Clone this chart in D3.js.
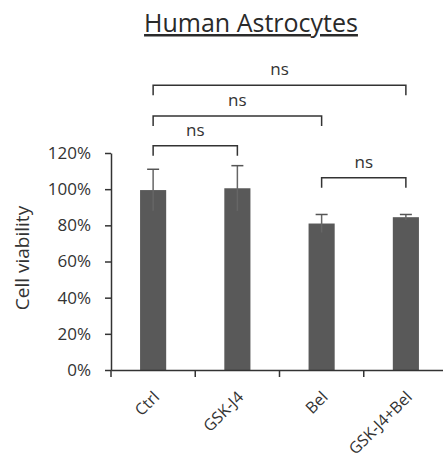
<!DOCTYPE html>
<html>
<head>
<meta charset="utf-8">
<script src="https://cdn.jsdelivr.net/npm/d3@7"></script>
<style>
  body { margin: 0; background: #fff; }
  text { font-family: "Open Sans", sans-serif; fill: #3a3a3a; }
</style>
</head>
<body>
<div id="chart"></div>
<script>
// data
var groups = ["Ctrl", "GSK-J4", "Bel", "GSK-J4+Bel"]
var viability = [0.995, 1.005, 0.81, 0.845]
var errors = [0.115, 0.125, 0.05, 0.015]
var y_ticks = [0, 0.2, 0.4, 0.6, 0.8, 1.0, 1.2]

// significance brackets: from group, to group, height (data units), label
var cmp_from = ["Ctrl", "Ctrl", "Ctrl", "Bel"]
var cmp_to = ["GSK-J4+Bel", "Bel", "GSK-J4", "GSK-J4+Bel"]
var cmp_level = [1.575, 1.405, 1.24, 1.063]
var cmp_label = ["ns", "ns", "ns", "ns"]

var W = 443, H = 463
var margin = {top: 153, right: -5, bottom: 93, left: 111}
var width = W - margin.left - margin.right,
    height = H - margin.top - margin.bottom

var svg = d3.select("#chart")
  .append("svg")
    .attr("width", W)
    .attr("height", H)

var g = svg.append("g")
    .attr("transform", "translate(" + margin.left + "," + margin.top + ")")

var x = d3.scaleBand()
    .domain(groups)
    .range([0, width])

var y = d3.scaleLinear()
    .domain([0, 1.2])
    .range([height, 0])

var barW = x.bandwidth() * 0.31
var cx = function (name) { return x(name) + x.bandwidth() / 2 }

// title
svg.append("text")
    .attr("x", 251)
    .attr("y", 32)
    .attr("text-anchor", "middle")
    .style("font-size", "25px")
    .style("text-decoration", "underline")
    .style("fill", "#2a2a2a")
    .text("Human Astrocytes")

// bars
g.selectAll(".bar")
  .data(groups)
  .enter()
  .append("rect")
    .attr("x", function (d) { return cx(d) - barW / 2 })
    .attr("y", function (d, i) { return y(viability[i]) })
    .attr("width", barW)
    .attr("height", function (d, i) { return height - y(viability[i]) })
    .attr("fill", "#595959")

// error bars
var eb = g.selectAll(".err")
  .data(groups)
  .enter()
  .append("g")
eb.append("line")
    .attr("x1", function (d) { return cx(d) })
    .attr("x2", function (d) { return cx(d) })
    .attr("y1", function (d, i) { return y(viability[i] - errors[i]) })
    .attr("y2", function (d, i) { return y(viability[i] + errors[i]) })
    .attr("stroke", "#666")
    .attr("stroke-width", 1.5)
eb.append("line")
    .attr("x1", function (d) { return cx(d) - 6 })
    .attr("x2", function (d) { return cx(d) + 6 })
    .attr("y1", function (d, i) { return y(viability[i] + errors[i]) })
    .attr("y2", function (d, i) { return y(viability[i] + errors[i]) })
    .attr("stroke", "#555")
    .attr("stroke-width", 1.5)

// y axis
var yAxis = g.append("g")
    .call(d3.axisLeft(y).tickValues(y_ticks).tickFormat(d3.format(".0%"))
      .tickSize(6).tickSizeOuter(0).tickPadding(14))
yAxis.select(".domain").attr("stroke", "#333").attr("stroke-width", 1.5)
yAxis.selectAll(".tick line").attr("stroke", "#333").attr("stroke-width", 1.5)
yAxis.selectAll(".tick text")
    .style("font-size", "17px")
    .style("fill", "#333")

// x axis: labels at centers, ticks at band edges
var xAxis = g.append("g")
    .attr("transform", "translate(0," + height + ")")
    .call(d3.axisBottom(x).tickSize(0).tickSizeOuter(0))
xAxis.select(".domain").attr("stroke", "#333").attr("stroke-width", 1.5)
xAxis.selectAll(".tick text")
    .style("font-size", "16px")
    .style("fill", "#333")
    .attr("text-anchor", "end")
    .attr("transform", "translate(5,26) rotate(-45)")
    .attr("dy", "0")
xAxis.selectAll(".edge")
  .data(groups.concat(["end"]))
  .enter()
  .append("line")
    .attr("x1", function (d, i) { return i * x.step() })
    .attr("x2", function (d, i) { return i * x.step() })
    .attr("y1", 0)
    .attr("y2", 7)
    .attr("stroke", "#333")
    .attr("stroke-width", 1.5)

// y axis title
svg.append("text")
    .attr("transform", "translate(29,258) rotate(-90)")
    .attr("text-anchor", "middle")
    .style("font-size", "19px")
    .style("fill", "#333")
    .text("Cell viability")

// significance brackets
var leg = 10
cmp_label.forEach(function (lab, i) {
  var x1 = cx(cmp_from[i]), x2 = cx(cmp_to[i]), yy = y(cmp_level[i])
  g.append("path")
      .attr("d", "M" + x1 + "," + (yy + leg) + "V" + yy + "H" + x2 + "V" + (yy + leg))
      .attr("fill", "none")
      .attr("stroke", "#333")
      .attr("stroke-width", 1.5)
  g.append("text")
      .attr("x", (x1 + x2) / 2)
      .attr("y", yy - 10)
      .attr("text-anchor", "middle")
      .style("font-size", "17px")
      .style("fill", "#333")
      .text(lab)
})
</script>
</body>
</html>
